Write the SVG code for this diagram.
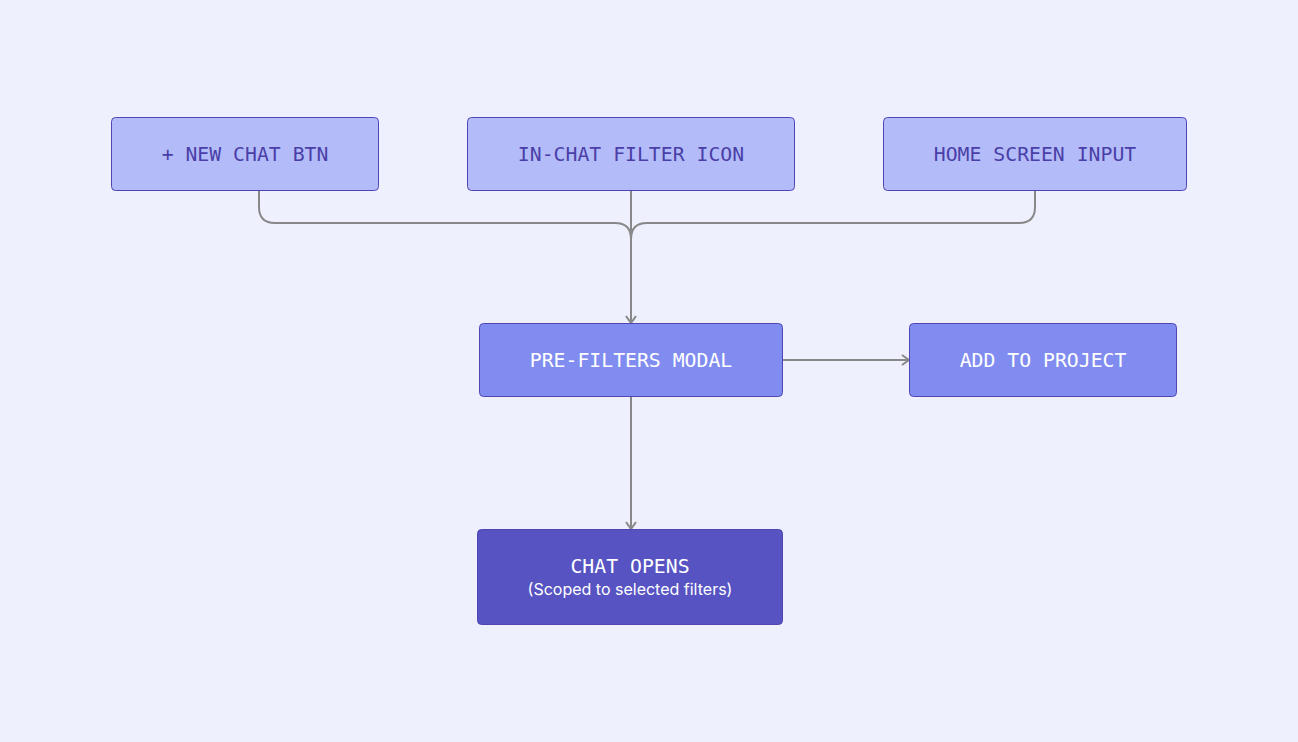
<svg xmlns="http://www.w3.org/2000/svg" width="1298" height="742" viewBox="0 0 1298 742">
<defs>
<style>
.bg{fill:#eef0fe}
.n1 rect{fill:#b3bbf8;stroke:#4f46b5;stroke-width:1}
.n2 rect{fill:#818cf0;stroke:#4f46b5;stroke-width:1}
.n3 rect{fill:#5753c2;stroke:#4f46b5;stroke-width:1}
.t{font-family:"DejaVu Sans Mono","Liberation Mono",monospace;font-size:19.8px;text-anchor:middle}
.n1 .t{fill:#4a3fa8}
.n2 .t,.n3 .t{fill:#ffffff}
.s{font-family:Inter,"Noto Sans",sans-serif;font-size:16px;text-anchor:middle;fill:#ffffff}
.c{fill:none;stroke:#888888;stroke-width:2}
</style>
<marker id="arr" viewBox="0 0 12 12" refX="10" refY="6" markerWidth="12" markerHeight="12" markerUnits="userSpaceOnUse" orient="auto">
<path d="M3,1 L10,6 L3,11" fill="none" stroke="#888888" stroke-width="2"/>
</marker>
</defs>
<rect class="bg" x="0" y="0" width="1298" height="742"/>
<g id="connectors">
<path class="c" d="M259,190 V207 Q259,223 275,223 H615 Q631,223 631,239"/>
<path class="c" d="M1035,190 V207 Q1035,223 1019,223 H647 Q631,223 631,239"/>
<path class="c" d="M631,190 V323" marker-end="url(#arr)"/>
<path class="c" d="M631,396 V529" marker-end="url(#arr)"/>
<path class="c" d="M782,360 H909" marker-end="url(#arr)"/>
</g>
<g id="node-new-chat" class="n1">
<rect x="111.5" y="117.5" width="267" height="73" rx="4"/>
<text class="t" x="245" y="161">+ NEW CHAT BTN</text>
</g>
<g id="node-in-chat" class="n1">
<rect x="467.5" y="117.5" width="327" height="73" rx="4"/>
<text class="t" x="631" y="161">IN-CHAT FILTER ICON</text>
</g>
<g id="node-home" class="n1">
<rect x="883.5" y="117.5" width="303" height="73" rx="4"/>
<text class="t" x="1035" y="161">HOME SCREEN INPUT</text>
</g>
<g id="node-prefilters" class="n2">
<rect x="479.5" y="323.5" width="303" height="73" rx="4"/>
<text class="t" x="631" y="367">PRE-FILTERS MODAL</text>
</g>
<g id="node-project" class="n2">
<rect x="909.5" y="323.5" width="267" height="73" rx="4"/>
<text class="t" x="1043" y="367">ADD TO PROJECT</text>
</g>
<g id="node-chat-opens" class="n3">
<rect x="477.5" y="529.5" width="305" height="95" rx="4"/>
<text class="t" x="630" y="573">CHAT OPENS</text>
<text class="s" x="630" y="595">(Scoped to selected filters)</text>
</g>
</svg>
